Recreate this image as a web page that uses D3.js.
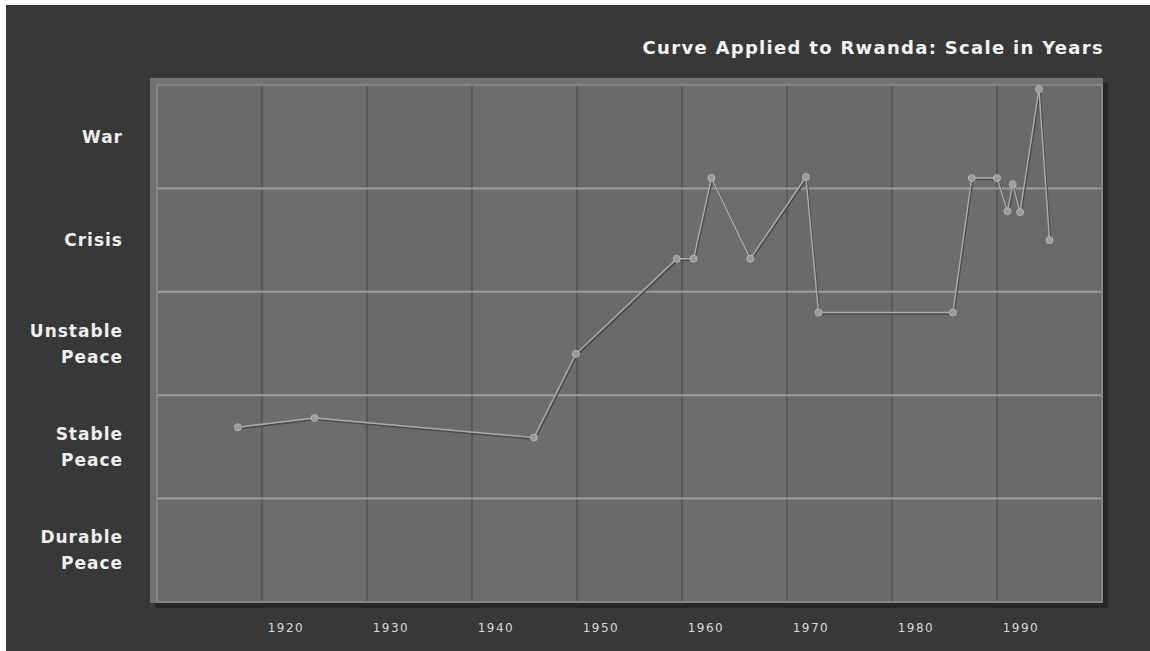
<!DOCTYPE html>
<html>
<head>
<meta charset="utf-8">
<script src="https://cdn.jsdelivr.net/npm/d3@7"></script>
<style>
  html, body { margin: 0; padding: 0; background: #ffffff; }
  svg { display: block; }
</style>
</head>
<body>
<div id="chart"></div>
<script>
// Data
const years = [1917.7, 1925, 1945.9, 1949.9, 1959.5, 1961.1, 1962.8, 1966.5, 1971.8, 1973,
               1985.8, 1987.6, 1990, 1991, 1991.5, 1992.2, 1994, 1995];
const levels = [1.69, 1.78, 1.59, 2.40, 3.32, 3.32, 4.10, 3.32, 4.11, 2.80,
                2.80, 4.10, 4.10, 3.78, 4.04, 3.77, 4.96, 3.50];
const levelNames = [["Durable", "Peace"], ["Stable", "Peace"], ["Unstable", "Peace"], ["Crisis"], ["War"]];
const tickYears = [1920, 1930, 1940, 1950, 1960, 1970, 1980, 1990];
const title = "Curve Applied to Rwanda: Scale in Years";

const width = 1150, height = 651;
const plot = { left: 157, right: 1102, top: 85, bottom: 602 };

const svg = d3.select("#chart").append("svg")
    .attr("width", width)
    .attr("height", height);

// Dark backdrop
svg.append("rect")
    .attr("x", 6).attr("y", 5)
    .attr("width", width - 6).attr("height", height - 5)
    .attr("fill", "#383838");

const x = d3.scaleLinear().domain([1910, 2000]).range([plot.left, plot.right]);
const y = d3.scaleLinear().domain([0, 5]).range([plot.bottom, plot.top]);

// Drop shadow of the plot frame
svg.append("rect")
    .attr("x", plot.left - 2).attr("y", plot.top - 2)
    .attr("width", plot.right - plot.left + 8).attr("height", plot.bottom - plot.top + 8)
    .attr("fill", "#262626");

// Outer frame
svg.append("rect")
    .attr("x", plot.left - 7).attr("y", plot.top - 7)
    .attr("width", plot.right - plot.left + 8).attr("height", plot.bottom - plot.top + 8)
    .attr("fill", "#727272");

// Plot fill
svg.append("rect")
    .attr("x", plot.left).attr("y", plot.top)
    .attr("width", plot.right - plot.left).attr("height", plot.bottom - plot.top)
    .attr("fill", "#6a6a6a")
    .attr("stroke", "#8e8e8e")
    .attr("stroke-width", 1.5);

// Slightly lighter alternating columns
const decades = d3.range(1910, 2000, 10);
svg.append("g").selectAll("rect")
    .data(decades.filter((d, i) => i % 2 === 1))
    .enter().append("rect")
    .attr("x", d => x(d))
    .attr("y", plot.top + 1)
    .attr("width", d => x(d + 10) - x(d))
    .attr("height", plot.bottom - plot.top - 2)
    .attr("fill", "#ffffff")
    .attr("opacity", 0.025);

// Vertical grid (dark)
svg.append("g").selectAll("line")
    .data(tickYears)
    .enter().append("line")
    .attr("x1", d => x(d)).attr("x2", d => x(d))
    .attr("y1", plot.top + 1).attr("y2", plot.bottom - 1)
    .attr("stroke", "#4c4c4c")
    .attr("stroke-width", 1.2);

// Horizontal grid (light)
svg.append("g").selectAll("line")
    .data([1, 2, 3, 4])
    .enter().append("line")
    .attr("x1", plot.left + 1).attr("x2", plot.right - 1)
    .attr("y1", d => y(d)).attr("y2", d => y(d))
    .attr("stroke", "#9c9c9c")
    .attr("stroke-width", 2);

// Level labels
const lab = svg.append("g")
    .attr("font-family", "'DejaVu Sans', Verdana, sans-serif")
    .attr("font-weight", "bold")
    .attr("font-size", 17)
    .attr("letter-spacing", 1)
    .attr("fill", "#eeeeee")
    .attr("text-anchor", "end");

levelNames.forEach((lines, i) => {
    const cy = y(i + 0.5);
    const t = lab.append("text").attr("x", 123);
    lines.forEach((ln, j) => {
        t.append("tspan")
            .attr("x", 123)
            .attr("y", cy + 6 + (j - (lines.length - 1) / 2) * 26)
            .text(ln);
    });
});

// Year tick labels
svg.append("g").selectAll("text")
    .data(tickYears)
    .enter().append("text")
    .attr("x", d => x(d) + 24)
    .attr("y", 632)
    .attr("text-anchor", "middle")
    .attr("font-family", "'DejaVu Sans', Verdana, sans-serif")
    .attr("font-size", 12)
    .attr("letter-spacing", 1.5)
    .attr("fill", "#d8d8d8")
    .text(d => d);

// Title
svg.append("text")
    .attr("x", 1104)
    .attr("y", 54)
    .attr("text-anchor", "end")
    .attr("font-family", "'DejaVu Sans', Verdana, sans-serif")
    .attr("font-weight", "bold")
    .attr("font-size", 18)
    .attr("letter-spacing", 1.3)
    .attr("fill", "#f2f2f2")
    .text(title);

// Curve
const pts = years.map((yr, i) => [yr, levels[i]]);
const line = d3.line().x(d => x(d[0])).y(d => y(d[1]));

svg.append("path")
    .datum(pts)
    .attr("d", line)
    .attr("transform", "translate(1,1.5)")
    .attr("fill", "none")
    .attr("stroke", "#4a4a4a")
    .attr("stroke-width", 1.6);

svg.append("path")
    .datum(pts)
    .attr("d", line)
    .attr("fill", "none")
    .attr("stroke", "#acacac")
    .attr("stroke-width", 1.4);

svg.append("g").selectAll("circle")
    .data(pts)
    .enter().append("circle")
    .attr("cx", d => x(d[0]))
    .attr("cy", d => y(d[1]))
    .attr("r", 3.5)
    .attr("fill", "#9a9a9a")
    .attr("stroke", "#b4b4b4")
    .attr("stroke-width", 1);
</script>
</body>
</html>
